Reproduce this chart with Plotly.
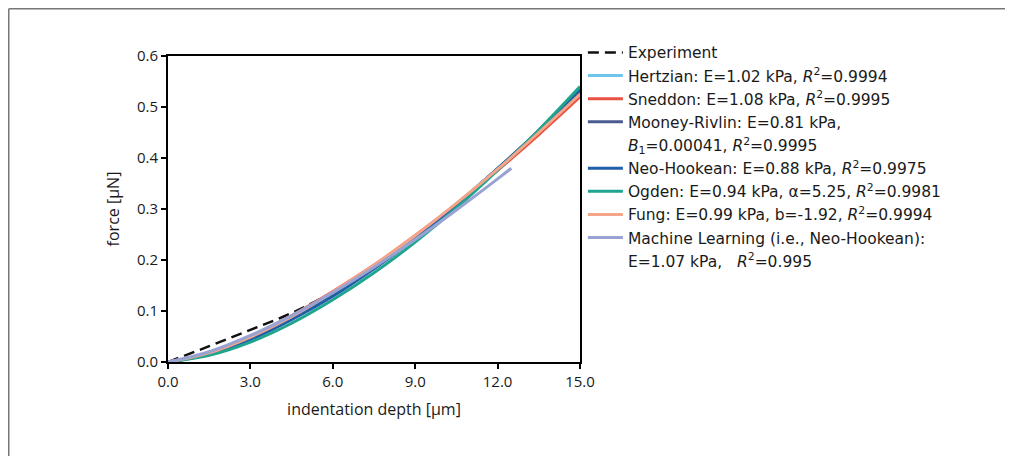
import plotly.graph_objects as go

depth = [0, 1.5, 3, 4.5, 6, 7.5, 9, 10.5, 12, 13.5, 15]
depth_ml = [0, 1.5, 3, 4.5, 6, 7.5, 9, 10.5, 12, 12.5]

experiment = [0, 0.031, 0.063, 0.096, 0.137, 0.188, 0.246, 0.310, 0.378, 0.452, 0.530]
hertzian = [0, 0.017, 0.047, 0.087, 0.134, 0.187, 0.246, 0.310, 0.379, 0.453, 0.530]
sneddon = [0, 0.018, 0.050, 0.091, 0.138, 0.190, 0.248, 0.310, 0.376, 0.446, 0.520]
mooney = [0, 0.016, 0.046, 0.085, 0.132, 0.186, 0.245, 0.309, 0.379, 0.453, 0.532]
neo = [0, 0.015, 0.044, 0.083, 0.129, 0.183, 0.242, 0.308, 0.379, 0.454, 0.535]
ogden = [0, 0.013, 0.039, 0.076, 0.122, 0.175, 0.235, 0.302, 0.376, 0.455, 0.540]
fung = [0, 0.018, 0.049, 0.089, 0.137, 0.190, 0.248, 0.311, 0.378, 0.450, 0.525]
ml = [0, 0.020, 0.052, 0.091, 0.136, 0.186, 0.240, 0.298, 0.359, 0.380]

R2 = "<i>R</i><sup>2</sup>"
# (legend label, continuation line or None)
labels = [
    ("Experiment", None),
    (f"Hertzian: E=1.02 kPa, {R2}=0.9994", None),
    (f"Sneddon: E=1.08 kPa, {R2}=0.9995", None),
    ("Mooney-Rivlin: E=0.81 kPa,", f"<i>B</i><sub>1</sub>=0.00041, {R2}=0.9995"),
    (f"Neo-Hookean: E=0.88 kPa, {R2}=0.9975", None),
    (f"Ogden: E=0.94 kPa, α=5.25, {R2}=0.9981", None),
    (f"Fung: E=0.99 kPa, b=-1.92, {R2}=0.9994", None),
    ("Machine Learning (i.e., Neo-Hookean):", f"E=1.07 kPa,   {R2}=0.995"),
]
colors = ["#111111", "#6ec6ea", "#e8503f", "#4a5b8f", "#1f5fa8", "#1fa58f", "#f4a58a", "#97a3d3"]
series = [experiment, hertzian, sneddon, mooney, neo, ogden, fung, ml]
xs = [depth] * 7 + [depth_ml]

fig = go.Figure()
for i, ((n, cont), c, y, x) in enumerate(zip(labels, colors, series, xs)):
    fig.add_trace(go.Scatter(
        x=x, y=y, mode="lines", name=n,
        line=dict(color=c, width=2.5 if i == 0 else 3,
                  dash="11px,6px" if i == 0 else "solid", shape="spline"),
    ))
    if cont:
        fig.add_trace(go.Scatter(
            x=[None], y=[None], mode="lines", name=cont, hoverinfo="skip",
            line=dict(color="rgba(0,0,0,0)", width=3),
        ))

FONT = "Open Sans"
LFONT = "DejaVu Sans"
axis_common = dict(
    showline=True, linecolor="black", linewidth=2, mirror=True,
    ticks="outside", ticklen=5, tickwidth=2, tickcolor="black",
    showgrid=False, zeroline=False,
    tickfont=dict(family=FONT, size=15, color="#1a1a1a"),
    title_font=dict(family=FONT, size=16, color="#1a1a1a"),
)

W, H = 1005, 448
L, T = 160, 48
PW, PH = 412, 306

fig.update_layout(
    width=W, height=H,
    margin=dict(l=L, r=W - L - PW, t=T, b=H - T - PH, pad=0),
    paper_bgcolor="white", plot_bgcolor="white",
    xaxis=dict(range=[0, 15], tickvals=[0, 3, 6, 9, 12, 15], tickformat=".1f",
               title=dict(text="indentation depth [µm]", standoff=14), **axis_common),
    yaxis=dict(range=[0, 0.6], tickvals=[0, 0.1, 0.2, 0.3, 0.4, 0.5, 0.6], tickformat=".1f",
               title=dict(text="force [µN]", standoff=13), **axis_common),
    legend=dict(x=1.007, y=1.066, xanchor="left", yanchor="top",
                font=dict(family=LFONT, size=15.5, color="#1a1a1a"),
                bgcolor="rgba(0,0,0,0)", tracegroupgap=0, itemwidth=35,
                maxheight=1000),
    shapes=[
        dict(type="line", xref="paper", yref="paper",
             x0=(0.75 - L) / PW, x1=(W + 20 - L) / PW,
             y0=1 + (T - 0.75) / PH, y1=1 + (T - 0.75) / PH,
             line=dict(color="#777", width=1.5)),
        dict(type="line", xref="paper", yref="paper",
             x0=(0.75 - L) / PW, x1=(0.75 - L) / PW,
             y0=1 + (T - 0.75) / PH, y1=-(H - T - PH + 20) / PH,
             line=dict(color="#777", width=1.5)),
    ],
)

fig.write_html("out.html")
